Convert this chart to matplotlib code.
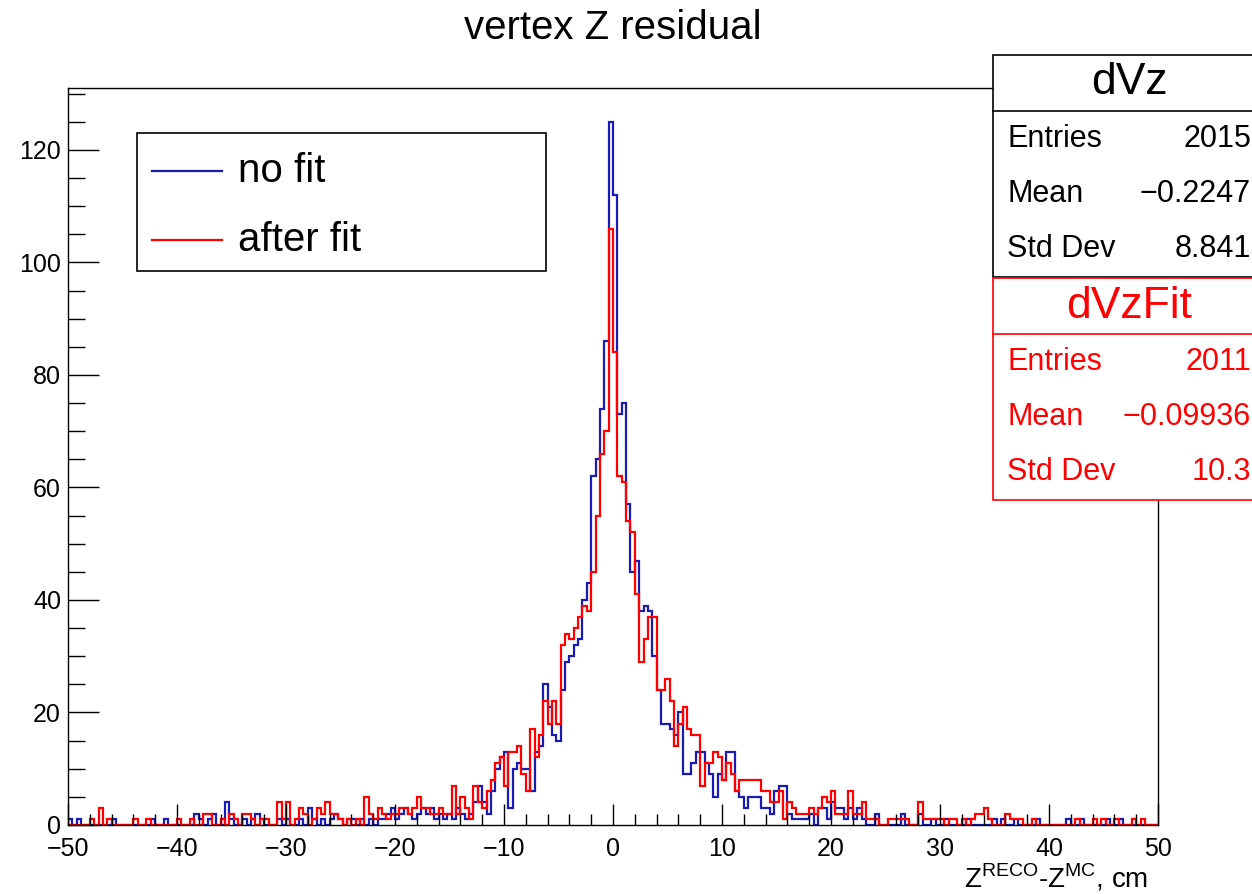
import matplotlib
matplotlib.use("Agg")
import matplotlib.pyplot as plt
import numpy as np
from matplotlib.patches import Rectangle
from matplotlib.lines import Line2D

plt.rcParams["font.family"] = ["Liberation Sans", "DejaVu Sans"]
plt.rcParams["mathtext.fontset"] = "custom"
plt.rcParams["mathtext.rm"] = "Liberation Sans"

# binning of both histograms: 250 bins of 0.4 cm
x_min, x_max, n_bins = -50, 50, 250

# counts per bin, 25 bins (10 cm) per line, starting at -50
no_fit = [
    1, 0, 1, 0, 0, 0, 0, 0, 0, 0, 1, 0, 0, 0, 0, 0, 0, 0, 0, 1, 0, 0, 1, 0, 0,
    0, 0, 0, 0, 2, 1, 0, 1, 2, 0, 0, 4, 1, 0, 0, 1, 0, 1, 2, 1, 0, 0, 0, 1, 0,
    1, 0, 0, 1, 0, 3, 1, 0, 1, 0, 1, 2, 1, 0, 1, 1, 0, 1, 0, 1, 0, 1, 1, 2, 3,
    1, 2, 3, 2, 1, 2, 3, 2, 3, 1, 2, 1, 2, 1, 3, 2, 1, 2, 4, 7, 4, 2, 6, 10, 12,
    13, 3, 10, 11, 10, 10, 6, 13, 14, 25, 21, 16, 15, 24, 29, 30, 32, 33, 40, 43, 62, 65, 74, 86, 125,
    112, 73, 75, 57, 45, 47, 38, 39, 38, 30, 24, 18, 18, 17, 16, 20, 9, 9, 11, 13, 13, 11, 9, 5, 9,
    8, 13, 13, 6, 5, 3, 5, 5, 5, 3, 3, 2, 6, 7, 7, 2, 1, 1, 1, 1, 2, 0, 3, 3, 1,
    4, 3, 3, 1, 3, 1, 3, 1, 0, 0, 2, 0, 0, 0, 0, 0, 2, 0, 0, 0, 2, 0, 0, 1, 0,
    0, 1, 0, 0, 0, 0, 1, 0, 0, 0, 0, 0, 1, 0, 1, 0, 0, 1, 0, 0, 0, 0, 1, 0, 0,
    0, 0, 0, 0, 1, 0, 0, 1, 0, 0, 0, 0, 0, 1, 0, 0, 1, 0, 0, 0, 0, 0, 0, 0, 0,
]
after_fit = [
    0, 0, 0, 0, 0, 1, 0, 3, 0, 1, 0, 0, 0, 0, 0, 1, 0, 0, 1, 0, 0, 0, 0, 0, 0,
    1, 0, 0, 1, 0, 0, 2, 2, 0, 0, 1, 0, 2, 1, 0, 2, 2, 1, 0, 1, 1, 0, 0, 4, 1,
    4, 0, 1, 3, 2, 0, 1, 3, 2, 4, 2, 2, 1, 0, 1, 0, 1, 0, 5, 2, 1, 3, 2, 1, 2,
    2, 3, 3, 2, 3, 5, 3, 3, 2, 2, 3, 2, 2, 7, 2, 5, 3, 1, 7, 4, 3, 6, 8, 11, 12,
    7, 13, 13, 14, 9, 6, 17, 12, 16, 22, 18, 22, 18, 32, 34, 33, 35, 37, 39, 38, 45, 55, 66, 70, 106,
    84, 62, 61, 54, 52, 41, 29, 33, 37, 37, 24, 24, 26, 22, 14, 18, 21, 17, 16, 16, 7, 11, 11, 13, 12,
    8, 11, 9, 6, 8, 8, 8, 8, 8, 6, 6, 4, 4, 6, 1, 4, 3, 2, 2, 2, 3, 2, 3, 5, 4,
    6, 2, 2, 2, 6, 2, 2, 4, 1, 1, 1, 0, 0, 1, 1, 1, 1, 1, 0, 0, 4, 1, 1, 1, 1,
    1, 0, 1, 1, 0, 1, 0, 1, 2, 2, 3, 1, 0, 0, 0, 2, 1, 1, 1, 0, 0, 1, 0, 0, 0,
    0, 0, 0, 0, 0, 0, 1, 0, 0, 0, 1, 0, 1, 0, 0, 1, 0, 0, 0, 1, 0, 1, 0, 0, 0,
]

legend_labels = ["no fit", "after fit"]
stat_names = ["Entries", "Mean", "Std Dev"]
stats_nofit = ["2015", "\u22120.2247", "8.841"]
stats_fit = ["2011", "\u22120.09936", "10.3"]

blue = "#1a1ab4"
red = "#ff0000"

W, H = 1252, 894


def fx(px):
    return px / W


def fy(py):
    return 1 - py / H


fig = plt.figure(figsize=(W / 100, H / 100), dpi=100)
ax = fig.add_axes([fx(68), fy(825), fx(1158) - fx(68), fy(88) - fy(825)])

edges = np.linspace(x_min, x_max, n_bins + 1)
ax.stairs(no_fit, edges, color=blue, lw=1.6)
ax.stairs(after_fit, edges, color=red, lw=1.6)

ax.set_xlim(x_min, x_max)
ax.set_ylim(0, 131)
ax.set_xticks(np.arange(-50, 51, 10))
ax.set_xticks(np.arange(-50, 51, 2), minor=True)
ax.set_yticks(np.arange(0, 121, 20))
ax.set_yticks(np.arange(0, 131, 5), minor=True)
ax.tick_params(axis="x", which="major", direction="in", length=15, width=1,
               labelsize=18, pad=9)
ax.tick_params(axis="x", which="minor", direction="in", length=8, width=1)
ax.tick_params(axis="y", which="major", direction="in", length=22, width=1,
               labelsize=18, pad=5)
ax.tick_params(axis="y", which="minor", direction="in", length=12, width=1)
for s in ax.spines.values():
    s.set_linewidth(1)

fig.text(fx(613), fy(28), "vertex Z residual", ha="center", va="center", fontsize=29)
fig.text(fx(1148), fy(878), r"Z$^{\mathrm{RECO}}$-Z$^{\mathrm{MC}}$, cm",
         ha="right", va="center", fontsize=20)

# legend box
fig.add_artist(Rectangle((fx(137), fy(271)), fx(546) - fx(137), fy(133) - fy(271),
                         transform=fig.transFigure, facecolor="white",
                         edgecolor="black", lw=1.2))
for label, color, py in zip(legend_labels, [blue, red], [171, 240]):
    fig.add_artist(Line2D([fx(152), fx(222)], [fy(py), fy(py)],
                          transform=fig.transFigure, color=color, lw=1.6))
    fig.text(fx(238), fy(py), label, ha="left", va="center", fontsize=29)


def draw_stats(top, title, values, color):
    title_h, row_h = 56, 55.3
    bottom = top + title_h + 3 * row_h
    fig.add_artist(Rectangle((fx(993), fy(bottom)), fx(1275) - fx(993),
                             fy(top) - fy(bottom), transform=fig.transFigure,
                             facecolor="white", edgecolor=color, lw=1.2))
    fig.add_artist(Line2D([fx(993), fx(1275)], [fy(top + title_h)] * 2,
                          transform=fig.transFigure, color=color, lw=1.2))
    fig.text(fx(1129), fy(top + title_h / 2), title, ha="center", va="center",
             fontsize=32, color=color)
    for i, (name, val) in enumerate(zip(stat_names, values)):
        py = top + title_h + row_h * (i + 0.5)
        fig.text(fx(1007), fy(py), name, ha="left", va="center", fontsize=22, color=color)
        fig.text(fx(1251), fy(py), val, ha="right", va="center", fontsize=22, color=color)


draw_stats(55, "dVz", stats_nofit, "black")
draw_stats(278, "dVzFit", stats_fit, red)

fig.savefig("out.png", dpi=100)
